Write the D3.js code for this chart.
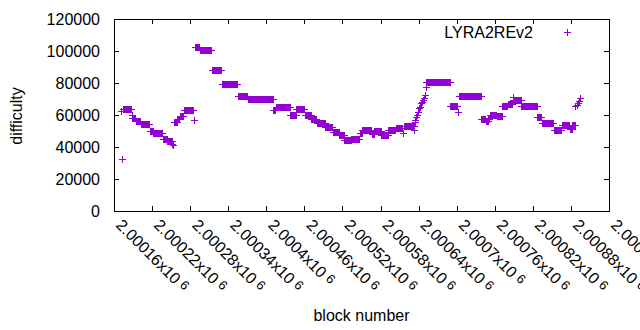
<!DOCTYPE html>
<html>
<head>
<meta charset="utf-8">
<script src="https://cdn.jsdelivr.net/npm/d3@7"></script>
<style>
body { margin: 0; background: #fff; }
text { font-family: "Liberation Sans", Arial, sans-serif; font-size: 16px; fill: #000; }
</style>
</head>
<body>
<div id="chart"></div>
<script>

// runs of consecutive blocks that share one difficulty
var runStart = [2000174, 2000189, 2000194, 2000202, 2000216, 2000222, 2000237, 2000244, 2000254, 2000260,
                2000264, 2000270, 2000287, 2000295, 2000314, 2000330, 2000355, 2000371, 2000411, 2000415,
                2000438, 2000447, 2000461, 2000471, 2000480, 2000493, 2000505, 2000515, 2000523, 2000534,
                2000547, 2000551, 2000566, 2000570, 2000581, 2000592, 2000604, 2000617, 2000652, 2000690,
                2000703, 2000739, 2000746, 2000750, 2000752, 2000763, 2000772, 2000781, 2000789, 2000802,
                2000827, 2000834, 2000853, 2000866, 2000878, 2000882];
var runEnd   = [2000187, 2000193, 2000201, 2000215, 2000221, 2000236, 2000243, 2000251, 2000259, 2000263,
                2000269, 2000285, 2000294, 2000313, 2000329, 2000354, 2000370, 2000410, 2000414, 2000437,
                2000446, 2000460, 2000470, 2000479, 2000492, 2000504, 2000514, 2000522, 2000533, 2000546,
                2000550, 2000565, 2000569, 2000580, 2000591, 2000603, 2000614, 2000632, 2000689, 2000701,
                2000738, 2000745, 2000749, 2000751, 2000762, 2000771, 2000780, 2000787, 2000801, 2000826,
                2000833, 2000852, 2000865, 2000877, 2000881, 2000886];
var runValue = [63600, 58100, 56300, 54200, 50000, 48500, 45200, 43500, 55800, 57500,
                59400, 63000, 102400, 100400, 88300, 79200, 71700, 70000, 63200, 64800,
                60200, 64000, 59800, 57800, 54800, 52700, 49500, 47200, 44400, 45300,
                48900, 50400, 48000, 49800, 47300, 50500, 51900, 53000, 80800, 65600,
                71800, 57300, 56200, 57300, 60000, 59400, 65800, 66800, 69600, 65900,
                58600, 55200, 50800, 54000, 51500, 54000];

// single blocks between the runs
var ptBlock = [2000171, 2000173, 2000188, 2000252, 2000253, 2000286, 2000616, 2000633,
               2000634, 2000635, 2000636, 2000637, 2000639, 2000641, 2000642, 2000644, 2000646, 2000647,
               2000649, 2000650, 2000651, 2000702, 2000788,
               2000887, 2000889, 2000891, 2000893, 2000895];
var ptValue = [62800, 32500, 59800, 42000, 41000, 56900, 48800, 50600,
               55500, 57000, 58500, 60000, 62100, 64200, 65200, 67300, 68300, 69400,
               70400, 72500, 77700, 62000, 71200,
               65600, 66500, 67600, 69000, 70400];

var seriesName = "LYRA2REv2";
var xTicks = [2000160, 2000220, 2000280, 2000340, 2000400, 2000460, 2000520,
              2000580, 2000640, 2000700, 2000760, 2000820, 2000880, 2000940];
var xTickLabels = ["2.00016", "2.00022", "2.00028", "2.00034", "2.0004", "2.00046", "2.00052",
                   "2.00058", "2.00064", "2.0007", "2.00076", "2.00082", "2.00088", "2.00094"];
var yTicks = [0, 20000, 40000, 60000, 80000, 100000, 120000];

// setup dimensions
var W = 640, H = 330,
    plot = {left: 114, right: 609, top: 19, bottom: 211},
    arm = 3.5,
    purple = "#9400d3";

var svg = d3.select("#chart").append("svg")
  .attr("width", W)
  .attr("height", H);

// setup scales
var x = d3.scaleLinear()
  .domain([xTicks[0], xTicks[xTicks.length - 1]])
  .range([plot.left, plot.right]);
var y = d3.scaleLinear()
  .domain([0, 120000])
  .range([plot.bottom, plot.top]);

// expand the runs into one point per block
var points = [];
for (var i = 0; i < runStart.length; i++) {
  for (var b = runStart[i]; b <= runEnd[i]; b++) points.push([b, runValue[i]]);
}
for (var j = 0; j < ptBlock.length; j++) points.push([ptBlock[j], ptValue[j]]);

var plus = "M" + (-arm) + ",0H" + arm + "M0," + (-arm) + "V" + arm;

// points
svg.append("g")
  .attr("shape-rendering", "crispEdges")
  .selectAll("path")
  .data(points)
  .enter().append("path")
  .attr("d", plus)
  .attr("transform", function(d) { return "translate(" + (x(d[0]) + 0.5) + "," + (y(d[1]) + 0.5) + ")"; })
  .attr("fill", "none")
  .attr("stroke", purple)
  .attr("stroke-width", 1);

// axes, ticks pointing inwards on all four sides
function clean(g) {
  g.attr("font-family", null).attr("font-size", null);
  g.selectAll("line, path").attr("stroke", "#000").attr("shape-rendering", "crispEdges");
}
svg.append("g")
  .attr("transform", "translate(" + plot.left + ",0)")
  .call(d3.axisLeft(y).tickValues(yTicks).tickFormat(d3.format("d"))
    .tickSizeInner(-5).tickSizeOuter(0).tickPadding(14))
  .call(clean);
svg.append("g")
  .attr("transform", "translate(" + plot.right + ",0)")
  .call(d3.axisRight(y).tickValues(yTicks).tickSizeInner(-5).tickSizeOuter(0).tickFormat(""))
  .call(clean);
svg.append("g")
  .attr("transform", "translate(0," + plot.bottom + ")")
  .call(d3.axisBottom(x).tickValues(xTicks).tickSizeInner(-5).tickSizeOuter(0).tickFormat(""))
  .call(clean);
svg.append("g")
  .attr("transform", "translate(0," + plot.top + ")")
  .call(d3.axisTop(x).tickValues(xTicks).tickSizeInner(-5).tickSizeOuter(0).tickFormat(""))
  .call(clean);

// rotated x tick labels
var xl = svg.append("g").selectAll("text")
  .data(xTicks)
  .enter().append("text")
  .attr("transform", function(d) { return "translate(" + (x(d) + 1) + ",226) rotate(45)"; })
  .attr("text-anchor", "start");
xl.append("tspan").text(function(d, i) { return xTickLabels[i] + "x10"; });
xl.append("tspan")
  .attr("dx", 4)
  .attr("dy", -3)
  .style("font-size", "13px")
  .text("6");

// axis titles
svg.append("text")
  .attr("transform", "translate(22,116) rotate(-90)")
  .attr("text-anchor", "middle")
  .text("difficulty");
svg.append("text")
  .attr("x", (plot.left + plot.right) / 2)
  .attr("y", 321)
  .attr("text-anchor", "middle")
  .text("block number");

// key
svg.append("text")
  .attr("x", 533)
  .attr("y", 32)
  .attr("dy", "0.35em")
  .attr("text-anchor", "end")
  .text(seriesName);
svg.append("path")
  .attr("d", plus)
  .attr("transform", "translate(567.5,32.5)")
  .attr("fill", "none")
  .attr("stroke", purple)
  .attr("shape-rendering", "crispEdges");

</script>
</body>
</html>
